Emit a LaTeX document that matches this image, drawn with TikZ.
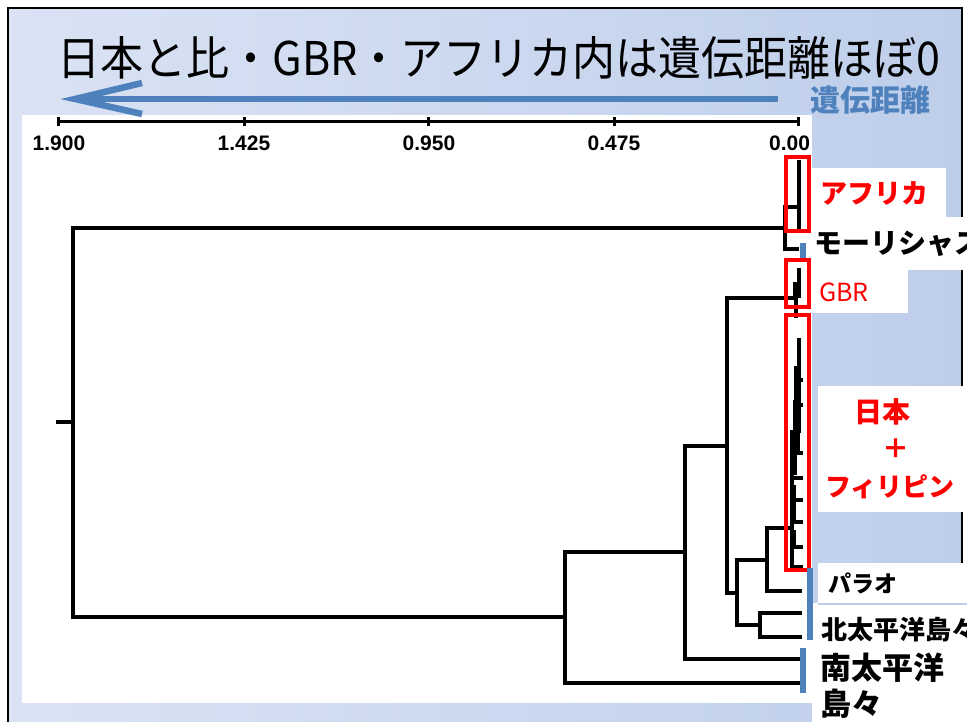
\documentclass[tikz,border=0pt]{standalone}
\usepackage{fontspec}
\newfontfamily\jp{Noto Sans CJK JP}
\newfontfamily\axf{Liberation Sans}
\definecolor{ofblue}{RGB}{79,129,189}
\definecolor{bgL}{RGB}{218,227,244}
\definecolor{bgR}{RGB}{190,206,234}
\begin{document}
\begin{tikzpicture}[x=1pt,y=-1pt,
  tr/.style={line width=3.4pt,black,line cap=rect},
  rbox/.style={draw=red,line width=3.6pt},
  bbar/.style={draw=ofblue,line width=6pt},
  axlab/.style={font=\axf\bfseries\fontsize{21}{21}\selectfont},
  redlab/.style={text=red,font=\jp\bfseries\fontsize{27}{27}\selectfont,anchor=west,inner sep=0pt},
  blklab/.style={text=black,font=\jp\bfseries\fontsize{28}{28}\selectfont,anchor=west,inner sep=0pt}]
\useasboundingbox (0,0) rectangle (967,722);
\fill[white] (0,0) rectangle (967,722);
\shade[left color=bgL,right color=bgR] (8,8) rectangle (962,730);
\draw[line width=2.8pt] (8,730) -- (8,8) -- (962,8) -- (962,730);
% white areas
\fill[white] (22,115) rectangle (812,703);
\fill[white] (812,168) rectangle (946,217);
\fill[white] (812,217) rectangle (967,270);
\fill[white] (812,270) rectangle (908,313);
\fill[white] (818,386) rectangle (967,512);
\fill[white] (818,563) rectangle (967,603);
\fill[white] (812,603) rectangle (967,722);
\draw[bgR,line width=1.2pt] (818,604) -- (967,604);
% title
\node[font=\jp\fontsize{43}{43}\selectfont,inner sep=0pt,yscale=1.08] (title) at (499,58) {日本と比・GBR・アフリカ内は遺伝距離ほぼ0};
% distance arrow
\node[font=\jp\bfseries\fontsize{30}{30}\selectfont,text=ofblue,inner sep=0pt] (dl) at (870,100) {遺伝距離};
\coordinate (aS) at (778,99);
\coordinate (aT) at (75,99);
\coordinate (aU) at (142,83);
\coordinate (aL) at (142,114);
\draw[ofblue,line width=6.5pt] (aS) -- (aT);
\draw[ofblue,line width=6.5pt,line join=miter,miter limit=20] (aU) -- (aT) -- (aL);
% axis
\coordinate (t1) at (58,122);
\coordinate (t2) at (244,122);
\coordinate (t3) at (428,122);
\coordinate (t4) at (614,122);
\coordinate (t5) at (798,122);
\draw[line width=3pt] (t1) -- (t5);
\foreach \t in {t1,t2,t3,t4,t5} \draw[line width=3pt] ([yshift=-4pt]\t) -- ([yshift=5pt]\t);
\node[axlab] (l1) at (59,143) {1.900};
\node[axlab] (l2) at (244,143) {1.425};
\node[axlab] (l3) at (429,143) {0.950};
\node[axlab] (l4) at (614,143) {0.475};
\begin{scope}
\clip (700,115) rectangle (812,160);
\node[axlab,anchor=west,inner sep=0pt] (l5) at (769,143) {0.00};
\end{scope}
% tree coordinates
\coordinate (r0) at (58,422);
\coordinate (r) at (73,422);
\coordinate (na) at (785,228);
\coordinate (af) at (799,207);
\coordinate (mu) at (797,249);
\coordinate (nb) at (565,617);
\coordinate (s2) at (802,683);
\coordinate (nc) at (685,552);
\coordinate (s1) at (802,659);
\coordinate (nd) at (727,446);
\coordinate (gb) at (796,298);
\coordinate (ne) at (737,593);
\coordinate (nf) at (767,560);
\coordinate (jp) at (792,528);
\coordinate (pa) at (800,591);
\coordinate (ng) at (760,625);
\coordinate (n1) at (800,613);
\coordinate (n2) at (800,637);
% tree edges
\draw[tr] (r0) -- (r);
\draw[tr] (r) |- (na);
\draw[tr] (r) |- (nb);
\draw[tr] (na) |- (af);
\draw[tr] (na) |- (mu);
\draw[tr] (799,162) -- (799,228);
\draw[tr] (nb) |- (s2);
\draw[tr] (nb) |- (nc);
\draw[tr] (nc) |- (s1);
\draw[tr] (nc) |- (nd);
\draw[tr] (nd) |- (gb);
\draw[tr] (nd) |- (ne);
\draw[tr] (ne) |- (nf);
\draw[tr] (ne) |- (ng);
\draw[tr] (nf) |- (jp);
\draw[tr] (nf) |- (pa);
\draw[tr] (ng) |- (n1);
\draw[tr] (ng) |- (n2);
% GBR inner
\draw[tr] (799,270) -- (799,292);
\fill (793,282) rectangle (801,298);
\draw[tr] (796,292) -- (796,316);
% Japan + Philippines inner
\draw[tr] (799,340) -- (799,370);
\fill (794,366) rectangle (801,405);
\fill (793,400) rectangle (801,433);
\fill (790,430) rectangle (800,452);
\draw[tr] (792,450) -- (792,567);
\fill (790,455) rectangle (797,475);
\fill (790,485) rectangle (796,520);
\fill (790,530) rectangle (796,545);
\foreach \yy in {453,478,500,522,547,567} \draw[tr] (792,\yy) -- (801,\yy);
\draw[tr] (796,405) -- (801,405);
\draw[tr] (797,380) -- (801,380);
% red boxes
\draw[rbox] (786,157) rectangle (809,231);
\draw[rbox] (786,260) rectangle (809,307);
\draw[rbox] (786,315) rectangle (809,570);
% blue bars
\draw[bbar] (803,243) -- (803,258);
\draw[bbar] (810,568) -- (810,640);
\draw[bbar] (803,648) -- (803,693);
% labels
\node[redlab] (afr) at (820,193) {アフリカ};
\node[blklab] (mau) at (814,244) {モーリシャス};
\node[text=red,font=\jp\fontsize{25}{25}\selectfont,anchor=west,inner sep=0pt] (gbr) at (819,292) {GBR};
\node[redlab,anchor=center,font=\jp\bfseries\fontsize{28}{28}\selectfont] (jpn) at (882,412) {日本};
\node[redlab,anchor=center] (plus) at (896,449) {＋};
\node[redlab,anchor=center,font=\jp\bfseries\fontsize{26}{26}\selectfont] (phi) at (890,487) {フィリピン};
\node[blklab,font=\jp\bfseries\fontsize{23}{23}\selectfont] (pal) at (828,583) {パラオ};
\node[blklab,font=\jp\bfseries\fontsize{26}{26}\selectfont] (npi) at (821,630) {北太平洋島々};
\node[blklab,font=\jp\bfseries\fontsize{31}{31}\selectfont] (spi1) at (820,668) {南太平洋};
\node[blklab,font=\jp\bfseries\fontsize{31}{31}\selectfont] (spi2) at (820,704) {島々};
\end{tikzpicture}
\end{document}
